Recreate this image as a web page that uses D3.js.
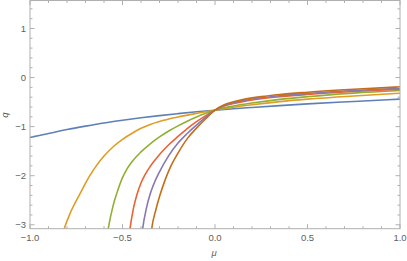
<!DOCTYPE html>
<html><head><meta charset="utf-8">
<script src="https://cdn.jsdelivr.net/npm/d3@7"></script>
<style>html,body{margin:0;padding:0;background:#fff;}svg{display:block;}</style>
</head><body>
<script>
// ---- data ----
const xTicks = [-1.0, -0.5, 0.0, 0.5, 1.0];
const xTickLabels = ["\u22121.0", "\u22120.5", "0.0", "0.5", "1.0"];
const yTicks = [-3, -2, -1, 0, 1];
const yTickLabels = ["\u22123", "\u22122", "\u22121", "0", "1"];
const seriesColors = ["#5e81b5", "#e19c24", "#8fb032", "#eb6235", "#8778b3", "#c56e1a"];

const mu1 = [-1, -0.9, -0.8, -0.7, -0.6, -0.5, -0.4, -0.3, -0.2, -0.1, 0, 0.1, 0.2, 0.35, 0.5, 0.75, 1];
const q1  = [-1.22, -1.14, -1.06, -0.99, -0.925, -0.87, -0.82, -0.775, -0.735, -0.698, -0.665, -0.637, -0.61, -0.572, -0.537, -0.487, -0.44];

const mu2 = [-0.85, -0.815, -0.78, -0.73, -0.68, -0.64, -0.6, -0.55, -0.5, -0.45, -0.4, -0.35, -0.3, -0.2, -0.1, 0, 0.1, 0.2, 0.35, 0.5, 0.75, 1];
const q2  = [-3.6, -3.08, -2.74, -2.37, -2.02, -1.79, -1.6, -1.41, -1.26, -1.14, -1.035, -0.955, -0.895, -0.805, -0.73, -0.665, -0.605, -0.555, -0.49, -0.44, -0.375, -0.32];

const mu3 = [-0.6, -0.577, -0.55, -0.53, -0.5, -0.477, -0.45, -0.4, -0.35, -0.3, -0.25, -0.2, -0.15, -0.1, -0.05, 0, 0.1, 0.2, 0.35, 0.5, 0.75, 1];
const q3  = [-3.7, -3.08, -2.6, -2.35, -2.04, -1.87, -1.72, -1.515, -1.35, -1.21, -1.09, -0.985, -0.89, -0.805, -0.73, -0.665, -0.58, -0.52, -0.445, -0.39, -0.318, -0.265];

const mu4 = [-0.475, -0.459, -0.44, -0.423, -0.4, -0.378, -0.35, -0.3, -0.25, -0.2, -0.15, -0.1, -0.05, 0, 0.05, 0.1, 0.15, 0.25, 0.35, 0.5, 0.75, 1];
const q4  = [-3.6, -3.07, -2.65, -2.4, -2.15, -1.98, -1.81, -1.57, -1.37, -1.2, -1.04, -0.9, -0.775, -0.665, -0.58, -0.53, -0.49, -0.432, -0.39, -0.345, -0.285, -0.237];

const mu5 = [-0.41, -0.391, -0.37, -0.35, -0.333, -0.3, -0.25, -0.2, -0.15, -0.1, -0.05, 0, 0.05, 0.1, 0.15, 0.25, 0.35, 0.5, 0.75, 1];
const q5  = [-3.8, -3.08, -2.65, -2.37, -2.19, -1.92, -1.59, -1.335, -1.14, -0.97, -0.805, -0.665, -0.57, -0.515, -0.473, -0.412, -0.37, -0.325, -0.265, -0.217];

const mu6 = [-0.36, -0.342, -0.32, -0.297, -0.27, -0.243, -0.2, -0.15, -0.1, -0.05, 0, 0.05, 0.1, 0.15, 0.25, 0.35, 0.5, 0.75, 1];
const q6  = [-3.8, -3.08, -2.7, -2.39, -2.09, -1.84, -1.54, -1.245, -1.03, -0.84, -0.665, -0.555, -0.495, -0.45, -0.388, -0.345, -0.3, -0.24, -0.19];

const muSeries = [mu1, mu2, mu3, mu4, mu5, mu6];
const qSeries = [q1, q2, q3, q4, q5, q6];

// ---- layout ----
const W = 407, H = 261;
const pL = 30, pR = 400, pT = 0.5, pB = 228.7;
const svg = d3.select("body").append("svg").attr("width", W).attr("height", H);

const x = d3.scaleLinear().domain([-1, 1]).range([pL, pR]);
const y = d3.scaleLinear().domain([-3.08, 1.57]).range([pB, pT]);

const frameColor = "#b0b0b0";
const textColor = "#606060";
const font = "'Liberation Sans', Arial, sans-serif";

svg.append("defs").append("clipPath").attr("id", "clip")
  .append("rect").attr("x", pL).attr("y", pT).attr("width", pR - pL).attr("height", pB - pT);

// curves
const line = d3.line().x(d => x(d[0])).y(d => y(d[1])).curve(d3.curveMonotoneX);
const g = svg.append("g").attr("clip-path", "url(#clip)");
muSeries.forEach((mu, i) => {
  const pts = mu.map((m, j) => [m, qSeries[i][j]]);
  g.append("path").attr("d", line(pts)).attr("fill", "none")
    .attr("stroke", seriesColors[i]).attr("stroke-width", 1.6).attr("stroke-linejoin", "round");
});

// frame
svg.append("rect").attr("x", pL).attr("y", pT).attr("width", pR - pL).attr("height", pB - pT)
  .attr("fill", "none").attr("stroke", frameColor).attr("stroke-width", 1);

// ticks
const major = 4.5, minor = 2.5;
const xMinor = d3.range(-10, 11).map(v => v / 10);
const yMinor = d3.range(-15, 8).map(v => v / 5).filter(v => v >= -3.08 && v <= 1.57);
const tg = svg.append("g").attr("stroke", frameColor).attr("stroke-width", 1);
xMinor.forEach(v => {
  const isMajor = Math.abs(v * 2 - Math.round(v * 2)) < 1e-9;
  const len = isMajor ? major : minor;
  const px = x(v);
  tg.append("line").attr("x1", px).attr("x2", px).attr("y1", pB).attr("y2", pB - len);
  tg.append("line").attr("x1", px).attr("x2", px).attr("y1", pT).attr("y2", pT + len);
});
yMinor.forEach(v => {
  const isMajor = Math.abs(v - Math.round(v)) < 1e-9;
  const len = isMajor ? major : minor;
  const py = y(v);
  tg.append("line").attr("x1", pL).attr("x2", pL + len).attr("y1", py).attr("y2", py);
  tg.append("line").attr("x1", pR).attr("x2", pR - len).attr("y1", py).attr("y2", py);
});

// tick labels
xTicks.forEach((v, i) => {
  svg.append("text").attr("x", x(v)).attr("y", 240.5).attr("text-anchor", "middle")
    .attr("font-family", font).attr("font-size", 9.5).attr("fill", textColor).text(xTickLabels[i]);
});
yTicks.forEach((v, i) => {
  svg.append("text").attr("x", 26).attr("y", y(v) + 3.4).attr("text-anchor", "end")
    .attr("font-family", font).attr("font-size", 9.5).attr("fill", textColor).text(yTickLabels[i]);
});

// axis labels
svg.append("text").attr("x", 214).attr("y", 256).attr("text-anchor", "middle")
  .attr("font-family", font).attr("font-size", 9.5).attr("font-style", "italic").attr("fill", textColor).text("\u03bc");
svg.append("text").attr("transform", "translate(8,115) rotate(-90)").attr("text-anchor", "middle")
  .attr("font-family", font).attr("font-size", 9.5).attr("font-style", "italic").attr("fill", textColor).text("q");
</script>
</body></html>
